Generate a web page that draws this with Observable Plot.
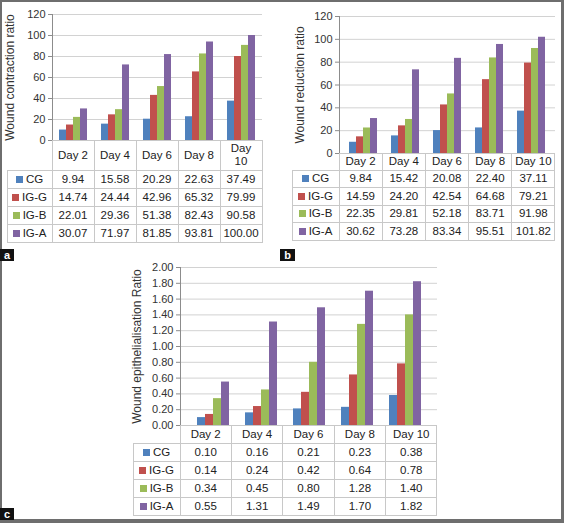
<!DOCTYPE html>
<html>
<head>
<meta charset="utf-8">
<script src="https://cdn.jsdelivr.net/npm/d3@7"></script>
<script src="https://cdn.jsdelivr.net/npm/@observablehq/plot@0.6"></script>
<style>
  html, body { margin: 0; padding: 0; background: #fff; }
  #fig { position: relative; width: 564px; height: 523px; overflow: hidden;
         font-family: "Liberation Sans", Arial, sans-serif; color: #222; background: #fff; }
  #fig svg { position: absolute; overflow: visible; }
  table.dt { position: absolute; border-collapse: collapse; table-layout: fixed;
             font-size: 11.5px; color: #222; }
  table.dt td { border: 1px solid #c8c8c8; text-align: center; padding: 0; white-space: nowrap;
                line-height: 13px; box-sizing: border-box; }
  table.dt td.blank { border-top: none; border-left: none; }
  table.dt td.lg { text-align: center; }
  .key { display: inline-block; width: 7px; height: 7px; margin-right: 3px; vertical-align: 0px; }
  .tag { position: absolute; background: #111; color: #fff; font: bold 11px "Liberation Sans", Arial, sans-serif;
         text-align: center; line-height: 12px; }
  .border { position: absolute; left: 0; top: 0; width: 564px; height: 523px; box-sizing: border-box;
            border: solid #6e6e6e; border-width: 2px 3px 4px 2px; pointer-events: none; }
</style>
</head>
<body>
<div id="fig"></div>
<script>
// Sampling days and treatment groups
const days = ["Day 2", "Day 4", "Day 6", "Day 8", "Day 10"];
const groups = ["CG", "IG-G", "IG-B", "IG-A"];
const groupColors = ["#4f81bd", "#c0504d", "#9bbb59", "#8064a2"];

// (a) Wound contraction ratio
const contractionCG  = [9.94, 15.58, 20.29, 22.63, 37.49];
const contractionIGG = [14.74, 24.44, 42.96, 65.32, 79.99];
const contractionIGB = [22.01, 29.36, 51.38, 82.43, 90.58];
const contractionIGA = [30.07, 71.97, 81.85, 93.81, 100.00];

// (b) Wound reduction ratio
const reductionCG  = [9.84, 15.42, 20.08, 22.40, 37.11];
const reductionIGG = [14.59, 24.20, 42.54, 64.68, 79.21];
const reductionIGB = [22.35, 29.81, 52.18, 83.71, 91.98];
const reductionIGA = [30.62, 73.28, 83.34, 95.51, 101.82];

// (c) Wound epithelialisation ratio
const epithCG  = [0.10, 0.16, 0.21, 0.23, 0.38];
const epithIGG = [0.14, 0.24, 0.42, 0.64, 0.78];
const epithIGB = [0.34, 0.45, 0.80, 1.28, 1.40];
const epithIGA = [0.55, 1.31, 1.49, 1.70, 1.82];

// Axis ticks
const ratioTicks = [0, 20, 40, 60, 80, 100, 120];
const epithTicks = [0, 0.2, 0.4, 0.6, 0.8, 1.0, 1.2, 1.4, 1.6, 1.8, 2.0];

const fmt2 = d3.format(".2f");
const fig = document.getElementById("fig");

function panel(cfg) {
  const {values, label, ticks, tickFormat, plotL, plotR, plotT, plotB, tableL,
         headerH, rowH, headerWrap, labelOffset} = cfg;
  const rows = groups.flatMap((g, i) => days.map((d, j) => ({day: d, group: g, value: values[i][j]})));
  // each day column: an empty band, one band per group, an empty band
  const xDomain = days.flatMap(d => [d + "<", ...groups.map(g => d + "|" + g), d + ">"]);
  const W = plotR + 4, H = plotB + 1;
  const chart = Plot.plot({
    width: W, height: H,
    marginLeft: plotL, marginRight: W - plotR, marginTop: plotT, marginBottom: H - plotB,
    style: {background: "transparent", fontFamily: "'Liberation Sans', Arial, sans-serif", fontSize: "11px", color: "#333"},
    x: {domain: xDomain, padding: 0, axis: null},
    y: {domain: [0, ticks[ticks.length - 1]], axis: null},
    color: {domain: groups, range: groupColors},
    marks: [
      Plot.ruleY(ticks.slice(1), {stroke: "#d2d2d2"}),
      Plot.barY(rows, {x: d => d.day + "|" + d.group, y: "value", fill: "group"}),
      Plot.axisY({ticks, tickFormat, tickSize: 4, tickPadding: 3, stroke: "#8c8c8c",
                  label, labelAnchor: "center", labelArrow: "none", labelOffset, fontSize: 11}),
      Plot.frame({anchor: "left", stroke: "#8c8c8c"})
    ]
  });
  chart.style.left = "0px";
  chart.style.top = "0px";
  // slightly larger axis title
  chart.querySelectorAll("text").forEach(n => {
    if (n.textContent === label) { n.setAttribute("font-size", "12px"); n.style.fontSize = "12px"; }
  });
  fig.appendChild(chart);

  // data table under the plot, columns aligned to the day bands
  const colW = (plotR - plotL) / days.length;
  const table = document.createElement("table");
  table.className = "dt";
  table.style.left = (tableL - 0.5) + "px";
  table.style.top = (plotB - 0.5) + "px";
  const colgroup = document.createElement("colgroup");
  [plotL - tableL, ...days.map(() => colW)].forEach(w => {
    const c = document.createElement("col"); c.style.width = w + "px"; colgroup.appendChild(c);
  });
  table.appendChild(colgroup);
  table.style.width = (plotR - tableL) + "px";
  const head = document.createElement("tr");
  head.style.height = headerH + "px";
  const blank = document.createElement("td"); blank.className = "blank"; head.appendChild(blank);
  days.forEach(d => {
    const td = document.createElement("td");
    td.textContent = d;
    if (headerWrap) { td.style.whiteSpace = "normal"; td.style.padding = "0 5px"; }
    head.appendChild(td);
  });
  table.appendChild(head);
  groups.forEach((g, i) => {
    const tr = document.createElement("tr");
    tr.style.height = rowH + "px";
    const lg = document.createElement("td");
    lg.className = "lg";
    const key = document.createElement("span");
    key.className = "key"; key.style.background = groupColors[i];
    lg.appendChild(key); lg.appendChild(document.createTextNode(g));
    tr.appendChild(lg);
    values[i].forEach(v => {
      const td = document.createElement("td"); td.textContent = fmt2(v); tr.appendChild(td);
    });
    table.appendChild(tr);
  });
  fig.appendChild(table);
}

panel({values: [contractionCG, contractionIGG, contractionIGB, contractionIGA],
       label: "Wound contraction ratio", ticks: ratioTicks, tickFormat: d3.format("d"),
       plotL: 52, plotR: 262, plotT: 14, plotB: 140, tableL: 7,
       headerH: 30, rowH: 18, headerWrap: true, labelOffset: 47});

panel({values: [reductionCG, reductionIGG, reductionIGB, reductionIGA],
       label: "Wound reduction ratio", ticks: ratioTicks, tickFormat: d3.format("d"),
       plotL: 339, plotR: 555, plotT: 16, plotB: 153, tableL: 292,
       headerH: 17, rowH: 17.5, headerWrap: false, labelOffset: 44});

panel({values: [epithCG, epithIGG, epithIGB, epithIGA],
       label: "Wound epithelialisation Ratio", ticks: epithTicks, tickFormat: fmt2,
       plotL: 180, plotR: 437, plotT: 267, plotB: 425, tableL: 133,
       headerH: 18, rowH: 18, headerWrap: false, labelOffset: 48});

// panel tags and outer frame
const border = document.createElement("div"); border.className = "border"; fig.appendChild(border);
[["a", 0, 249, 14, 12], ["b", 280, 249, 15, 12], ["c", 0, 508, 14, 12]].forEach(([t, x, y, w, h]) => {
  const el = document.createElement("div");
  el.className = "tag"; el.textContent = t;
  Object.assign(el.style, {left: x + "px", top: y + "px", width: w + "px", height: h + "px"});
  fig.appendChild(el);
});
</script>
</body>
</html>
